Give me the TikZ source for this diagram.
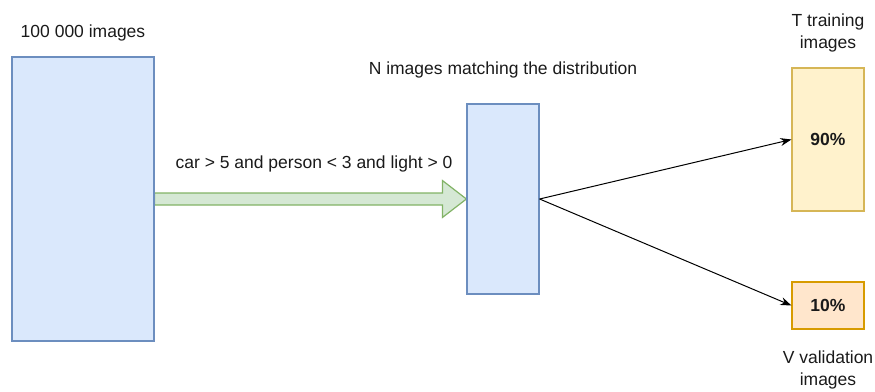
\documentclass[tikz,border=0pt]{standalone}
\usepackage{fontspec}
\setmainfont{Liberation Sans}
\usetikzlibrary{calc,arrows.meta,backgrounds}
\definecolor{bluefill}{HTML}{DAE8FC}
\definecolor{bluedraw}{HTML}{6C8EBF}
\definecolor{greenfill}{HTML}{D5E8D4}
\definecolor{greendraw}{HTML}{82B366}
\definecolor{yelfill}{HTML}{FFF2CC}
\definecolor{yeldraw}{HTML}{D6B656}
\definecolor{orfill}{HTML}{FFE6CC}
\definecolor{ordraw}{HTML}{D79B00}
\definecolor{txt}{HTML}{1A1A1A}
\tikzset{
  box/.style={rectangle, inner sep=0pt, line width=1.2pt, anchor=center},
  bluebox/.style={box, fill=bluefill, draw=bluedraw},
  trainbox/.style={box, fill=yelfill, draw=yeldraw},
  valbox/.style={box, fill=orfill, draw=ordraw},
  lbl/.style={text=txt, font=\fontsize{17.5pt}{22pt}\selectfont, align=center, inner sep=0pt},
  bold/.style={lbl, font=\fontsize{17.5pt}{22pt}\selectfont\bfseries},
  greenarrow/.style={fill=greenfill, draw=greendraw, line width=1.2pt, line join=miter},
  link/.style={draw=black, line width=1pt, -{Stealth[length=11pt,width=8pt]}}
}
\begin{document}
\begin{tikzpicture}[x=1pt,y=-1pt]
\useasboundingbox (0,0) rectangle (875,391);
\node[bluebox, minimum width=142pt, minimum height=284pt] (big) at (83,199) {};
\node[bluebox, minimum width=72pt, minimum height=190pt] (mid) at (503,199) {};
\node[trainbox, minimum width=72pt, minimum height=143pt] (train) at (828,139.5) {};
\node[valbox, minimum width=72pt, minimum height=47pt] (val) at (828,305.5) {};
\node[bold] (p90) at (train.center) {90\%};
\node[bold] (p10) at (val.center) {10\%};
\begin{scope}[on background layer]
\draw[greenarrow] ($(big.east)+(0,-6)$) -- ($(mid.west)+(-24,-6)$) -- ($(mid.west)+(-24,-18.5)$) -- (mid.west) -- ($(mid.west)+(-24,18.5)$) -- ($(mid.west)+(-24,6)$) -- ($(big.east)+(0,6)$) -- cycle;
\end{scope}
\draw[link] (mid.east) -- (train.west);
\draw[link] (mid.east) -- (val.west);
\node[lbl] (lbig) at (83,33) {100 000 images};
\node[lbl] (lmid) at (503,70) {N images matching the distribution};
\node[lbl] (lcond) at (314,164) {car > 5 and person < 3 and light > 0};
\node[lbl] (ltrain) at (828,33) {T training\\images};
\node[lbl] (lval) at (828,370) {V validation\\images};
\end{tikzpicture}
\end{document}
